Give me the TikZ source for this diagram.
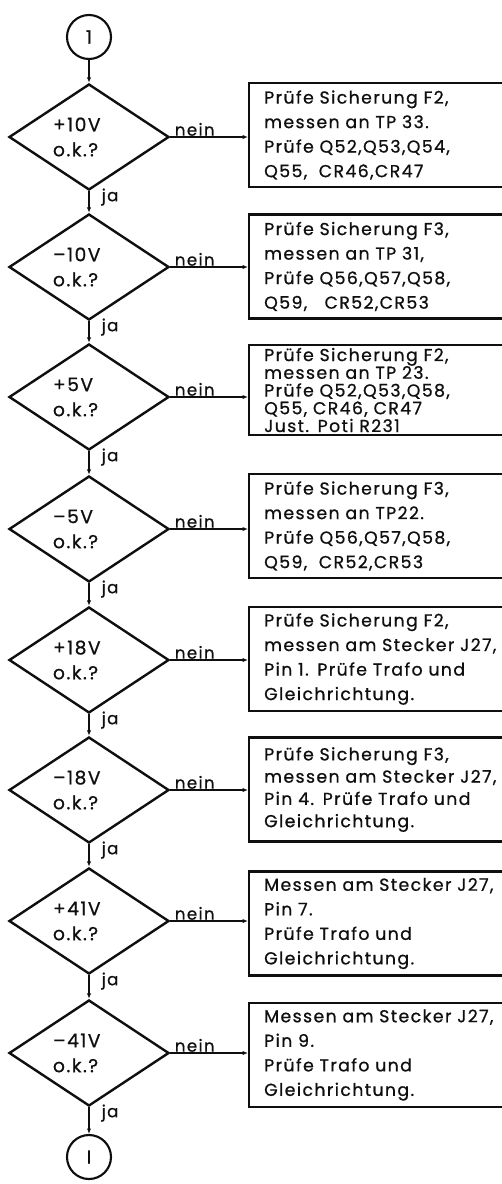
\documentclass[tikz,border=0pt]{standalone}
\usepackage{fontspec}
\usepackage{tikz}
\usetikzlibrary{arrows.meta, positioning, shapes.geometric, calc}
\newfontfamily\chartfont[LetterSpace=8, FakeBold=0.8]{Poppins}
\definecolor{ink}{RGB}{15, 15, 15}
\newcommand{\boxtxt}{\chartfont\fontsize{13}{18.4}\selectfont}
\newcommand{\dectxt}{\chartfont\fontsize{14}{18.75}\selectfont}
\newcommand{\lbltxt}{\chartfont\fontsize{12.5}{14}\selectfont}
\tikzset{
    dec/.style   ={diamond, draw=ink, line width=1.8pt, shape aspect=1.5,
                   minimum width=120pt, minimum height=79.5pt, inner sep=0pt,
                   text width=54pt, align=left, font=\dectxt, text=ink},
    chk/.style   ={draw=ink, line width=1.8pt, anchor=west,
                   text width=183.75pt, inner xsep=11.25pt, inner ysep=0pt,
                   minimum height=78pt, align=left, font=\boxtxt, text=ink},
    con/.style   ={circle, draw=ink, line width=1.6pt, minimum size=33pt,
                   inner sep=0pt, font=\dectxt, text=ink},
    ar/.style    ={-{Latex[length=4pt, width=3.2pt]}, line width=1pt, draw=ink},
    lbl/.style   ={font=\lbltxt, inner sep=0pt, text=ink}
}

\begin{document}
\begin{tikzpicture}[x=0.75pt, y=-0.75pt]
  \useasboundingbox (0,0) rectangle (502,1184);

  % entry and exit connectors
  \node[con] (in)  at (89,37)   {1};
  \node[con] (out) at (89,1157) {I};

  % voltage checks
  \node[dec] (d1) at (89,137)  {+10V\\o.k.?};
  \node[dec] (d2) at (89,267)  {–10V\\o.k.?};
  \node[dec] (d3) at (89,397)  {+5V\\o.k.?};
  \node[dec] (d4) at (89,529)  {–5V\\o.k.?};
  \node[dec] (d5) at (89,660)  {+18V\\o.k.?};
  \node[dec] (d6) at (89,790)  {–18V\\o.k.?};
  \node[dec] (d7) at (89,921)  {+41V\\o.k.?};
  \node[dec] (d8) at (89,1053) {–41V\\o.k.?};

  % what to check if not
  \node[chk] (m1) at (248,135) {Prüfe Sicherung F2,\\messen an TP 33.\\Prüfe Q52,Q53,Q54,\\Q55,\ \ CR46,CR47};
  \node[chk] (m2) at (248,266.5) {Prüfe Sicherung F3,\\messen an TP 31,\\Prüfe Q56,Q57,Q58,\\Q59,\ \ \ CR52,CR53};
  \node[chk, minimum height=67.5pt, font=\chartfont\fontsize{13}{13.3}\selectfont]
        (m3) at (248,390) {Prüfe Sicherung F2,\\messen an TP 23.\\Prüfe Q52,Q53,Q58,\\Q55, CR46, CR47\\Just. Poti R231};
  \node[chk] (m4) at (248,526) {Prüfe Sicherung F3,\\messen an TP22.\\Prüfe Q56,Q57,Q58,\\Q59,\ \ CR52,CR53};
  \node[chk] (m5) at (248,659) {Prüfe Sicherung F2,\\messen am Stecker J27,\\Pin 1. Prüfe Trafo und\\Gleichrichtung.};
  \node[chk, font=\chartfont\fontsize{13}{16.7}\selectfont]
        (m6) at (248,789.5) {Prüfe Sicherung F3,\\messen am Stecker J27,\\Pin 4. Prüfe Trafo und\\Gleichrichtung.};
  \node[chk] (m7) at (248,923.5) {Messen am Stecker J27,\\Pin 7.\\Prüfe Trafo und\\Gleichrichtung.};
  \node[chk] (m8) at (248,1055) {Messen am Stecker J27,\\Pin 9.\\Prüfe Trafo und\\Gleichrichtung.};

  % ja path
  \draw[ar] (in) -- (d1);
  \draw[ar] (d1) -- node[lbl, at start, anchor=base west, xshift=9pt, yshift=-7.5pt] {ja} (d2);
  \draw[ar] (d2) -- node[lbl, at start, anchor=base west, xshift=9pt, yshift=-7.5pt] {ja} (d3);
  \draw[ar] (d3) -- node[lbl, at start, anchor=base west, xshift=9pt, yshift=-7.5pt] {ja} (d4);
  \draw[ar] (d4) -- node[lbl, at start, anchor=base west, xshift=9pt, yshift=-7.5pt] {ja} (d5);
  \draw[ar] (d5) -- node[lbl, at start, anchor=base west, xshift=9pt, yshift=-7.5pt] {ja} (d6);
  \draw[ar] (d6) -- node[lbl, at start, anchor=base west, xshift=9pt, yshift=-7.5pt] {ja} (d7);
  \draw[ar] (d7) -- node[lbl, at start, anchor=base west, xshift=9pt, yshift=-7.5pt] {ja} (d8);
  \draw[ar] (d8) -- node[lbl, at start, anchor=base west, xshift=9pt, yshift=-7.5pt] {ja} (out);

  % nein path
  \draw[ar] (d1.east) -- node[lbl, at start, anchor=base west, xshift=3pt, yshift=1pt] {nein} (d1.east -| m1.west);
  \draw[ar] (d2.east) -- node[lbl, at start, anchor=base west, xshift=3pt, yshift=1pt] {nein} (d2.east -| m2.west);
  \draw[ar] (d3.east) -- node[lbl, at start, anchor=base west, xshift=3pt, yshift=1pt] {nein} (d3.east -| m3.west);
  \draw[ar] (d4.east) -- node[lbl, at start, anchor=base west, xshift=3pt, yshift=1pt] {nein} (d4.east -| m4.west);
  \draw[ar] (d5.east) -- node[lbl, at start, anchor=base west, xshift=3pt, yshift=1pt] {nein} (d5.east -| m5.west);
  \draw[ar] (d6.east) -- node[lbl, at start, anchor=base west, xshift=3pt, yshift=1pt] {nein} (d6.east -| m6.west);
  \draw[ar] (d7.east) -- node[lbl, at start, anchor=base west, xshift=3pt, yshift=1pt] {nein} (d7.east -| m7.west);
  \draw[ar] (d8.east) -- node[lbl, at start, anchor=base west, xshift=3pt, yshift=1pt] {nein} (d8.east -| m8.west);
\end{tikzpicture}
\end{document}
